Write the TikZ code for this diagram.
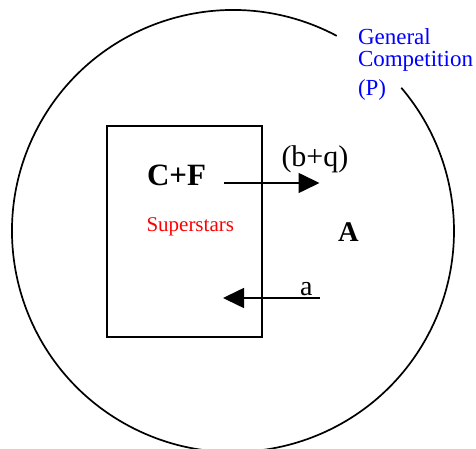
\documentclass[tikz,border=0pt]{standalone}
\usepackage{fontspec}
\setmainfont{Liberation Serif}
\usetikzlibrary{arrows.meta}
\tikzset{
  lbl/.style={anchor=base west, inner sep=0pt, outer sep=0pt},
  conn/.style={line width=1.6pt, -{Triangle[length=21pt,width=20pt]}},
  boxstyle/.style={draw, line width=1.3pt, minimum width=155pt, minimum height=211pt, inner sep=0pt},
  bluelbl/.style={lbl, text=blue, font=\fontsize{23}{26}\selectfont}
}
\begin{document}
\begin{tikzpicture}[x=1pt,y=1pt]
\useasboundingbox (0,0) rectangle (476,449);
% big circle with gap
\draw[line width=1.7pt] (233,218) ++(62:221) arc[start angle=62, end angle=400.4, radius=221];
% box
\node[boxstyle] (box) at (184.5,217.5) {};
% labels
\node[lbl, font=\fontsize{31}{36}\selectfont\bfseries] (cf) at (147,263.3) {C+F};
\node[lbl, text=red, font=\fontsize{21}{24}\selectfont] (sup) at (146.5,217.3) {Superstars};
\node[lbl, font=\fontsize{30}{34}\selectfont] (bq) at (281.5,282) {(b+q)};
\node[lbl, font=\fontsize{28.5}{32}\selectfont\bfseries] (A) at (338,207.3) {A};
\node[lbl, font=\fontsize{28}{32}\selectfont] (a) at (300,153) {a};
\node[bluelbl] (gen) at (358,404) {General};
\node[bluelbl] (comp) at (358,382.3) {Competition};
\node[bluelbl] (P) at (358,353) {(P)};
% arrows
\coordinate (u1) at (224,266);
\coordinate (u2) at (319.5,266);
\coordinate (l1) at (320,151);
\coordinate (l2) at (223,151);
\draw[conn] (u1) -- (u2);
\draw[conn] (l1) -- (l2);
\end{tikzpicture}
\end{document}
